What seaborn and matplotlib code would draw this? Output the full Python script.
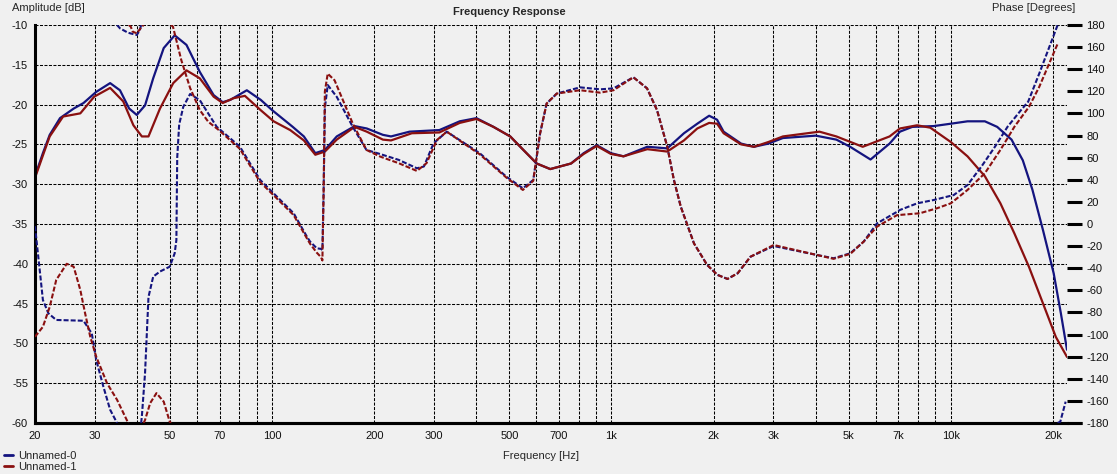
import numpy as np
import pandas as pd
import seaborn as sns
import matplotlib.pyplot as plt
from matplotlib.lines import Line2D

# amplitude [dB], solid lines
amp0_hz = [20, 21.1, 22.1, 23.7, 26.0, 27.8, 30.3, 33.3, 35.6, 37.9, 39.9, 42.2, 44.6, 47.9,
           51.6, 55.9, 61.2, 67.2, 71.5, 75.3, 84.2, 92.5, 100, 115, 124, 134, 143, 155, 175,
           190, 212, 224, 254, 311, 357, 400, 449, 503, 550, 602, 660, 760, 828, 905, 996,
           1085, 1275, 1460, 1635, 1790, 1940, 2047, 2140, 2410, 2630, 2900, 3200, 4000,
           4600, 5050, 5800, 6600, 7080, 7700, 8900, 10000, 11200, 12600, 13700, 15100,
           16300, 17400, 18700, 20100, 21100, 22000]
amp0_db = [-29.0, -26.1, -23.8, -21.7, -20.5, -19.8, -18.4, -17.3, -18.2, -20.5, -21.3, -20.1,
           -16.7, -12.9, -11.3, -12.5, -15.9, -18.8, -19.7, -19.4, -18.2, -19.4, -20.7, -22.8,
           -24.0, -26.1, -25.7, -24.0, -22.7, -23.0, -23.8, -24.0, -23.4, -23.2, -22.1, -21.7,
           -22.8, -24.0, -25.7, -27.4, -28.1, -27.4, -26.1, -25.1, -26.1, -26.5, -25.3, -25.5,
           -23.6, -22.4, -21.4, -21.9, -23.4, -24.9, -25.3, -24.9, -24.2, -23.9, -24.4, -25.3,
           -26.9, -24.9, -23.4, -22.8, -22.7, -22.4, -22.1, -22.1, -22.8, -24.4, -27.0, -30.7,
           -35.8, -41.2, -46.2, -50.8]

amp1_hz = [20, 21.3, 22.1, 24.2, 27.2, 29.9, 33.3, 36.4, 39, 41.3, 43.2, 46.7, 51.1, 55.9,
           61.2, 67.2, 71.5, 76.9, 83.1, 92.5, 101, 113, 124, 134, 143, 155, 175, 190, 212,
           224, 258, 311, 357, 400, 449, 503, 550, 602, 660, 760, 828, 905, 996, 1085, 1275,
           1460, 1635, 1790, 1940, 2047, 2140, 2410, 2630, 2900, 3200, 4100, 4600, 5500,
           6600, 7080, 7950, 8700, 10000, 11200, 12600, 14000, 15400, 17000, 18700, 20400,
           22000]
amp1_db = [-29.2, -25.9, -24.0, -21.5, -21.1, -19.0, -17.9, -19.6, -22.6, -24.0, -24.0, -20.5,
           -17.3, -15.7, -16.7, -19.0, -19.8, -19.2, -18.9, -20.7, -22.1, -23.2, -24.5, -26.3,
           -25.9, -24.4, -22.8, -23.4, -24.4, -24.5, -23.6, -23.5, -22.3, -21.8, -22.8, -24.0,
           -25.7, -27.4, -28.1, -27.4, -26.2, -25.2, -26.2, -26.5, -25.6, -25.9, -24.5, -23.0,
           -22.3, -22.4, -23.6, -25.0, -25.3, -24.7, -24.0, -23.4, -24.0, -25.3, -24.0, -23.0,
           -22.6, -22.9, -24.7, -26.5, -29.0, -32.4, -36.2, -40.4, -45.0, -49.2, -51.7]

# phase [degrees], dashed lines, wrapped to +-180 (nan = wrap break)
nan = np.nan
ph0_hz = [20, 20.2, 20.7, 21.1, 21.9, 23.1, 27.8, 29.4, 30.3, 31.8, 33.3, 34.9, nan,
          34.9, 35.6, 37.6, 39.9, 40.7, 41.1, nan,
          41.1, 41.3, 42.2, 43.2, 44.6, 46.7, 49.9, 51.6, 52.2, 52.5, 53.2, 54.7, 57.3, 61.2,
          68.6, 80.3, 92.1, 103.3, 115.7, 126.6, 129.4, 135.4, 139.3, 140.6, 141.8, 143.0,
          145.8, 155, 172.7, 189.6, 208, 236, 267, 280, 299, 327, 409, 490, 548, 588, 616,
          644, 690, 808, 926, 1014, 1160, 1273, 1362, 1460, 1527, 1600, 1750, 1913, 2052,
          2197, 2354, 2568, 3006, 4028, 4514, 5056, 5535, 6060, 6940, 7080, 7960, 8900,
          10200, 11200, 12300, 13500, 14700, 16100, 16900, 18220, 20470, 20650, nan,
          20650, 21020, 21800]
ph0_deg = [-2, -14.5, -44.6, -68.7, -80.8, -86.8, -87.5, -99, -123, -147, -168, -180, nan,
           180, 177, 173, 171, 175, 180, nan,
           -180, -174, -135, -66, -47.6, -43, -38.6, -26.5, -14.5, 60, 90, 106, 117.6, 112,
           88, 70, 40, 24.7, 9.7, -11.5, -16, -22, -22.5, -23.5, 30, 105,
           125.7, 115, 88, 67, 63.3, 58, 50.4, 52, 73, 83.5, 64, 42.8, 32.3, 39.8, 82,
           109, 118, 123.6, 121.8, 122.7, 132.7, 122.7, 103, 70, 40, 15.7, -17.5, -37, -46,
           -49.7, -44.6, -29.6, -19.9, -28, -31, -26.5, -16, 0.6, 11, 12.7, 18.7, 21.7,
           26.2, 35.3, 51.8, 70, 88, 103, 110.6, 136, 177, 180, nan,
           -180, -178.8, -160.7]

ph1_hz = [20, 21.1, 22.1, 23.1, 24.8, 26.0, 27.2, 28.1, 29.1, 30.3, 32.6, 34.9, 37.6, 37.8, nan,
          37.8, 38.3, 38.8, 39.9, 41.3, 41.8, nan,
          41.8, 42.2, 43.7, 45.6, 47.9, 49.9, 50.3, nan,
          50.3, 51.0, 54.0, 57.3, 61.2, 64.8, 69.6, 80.3, 92.1, 103.3, 115.7, 126.6, 129.4,
          135.4, 139.3, 140.6, 141.8, 143.0, 145.8, 152.7, 172.7, 189.6, 208, 236, 267, 285,
          306, 327, 409, 490, 548, 588, 616, 644, 690, 808, 926, 1014, 1160, 1273, 1362,
          1460, 1527, 1600, 1750, 1913, 2052, 2197, 2354, 2568, 3006, 4028, 4514, 5056,
          5535, 6060, 6940, 8100, 9100, 10000, 11200, 12600, 14000, 15400, 17000, 18220,
          20470, 20650]
ph1_deg = [-102, -93, -75, -50.6, -36, -38.6, -59.7, -80.8, -102, -120, -144, -159, -179.7, -180, nan,
           180, 178.5, 174, 172.5, 178.5, 180, nan,
           -180, -177.3, -162, -153, -160.7, -178.8, -180, nan,
           180, 178.5, 148, 123, 103, 92.5, 85, 68, 38, 23, 8, -13, -18,
           -26, -30, -33, 30, 120, 136, 130, 91, 67, 61, 55, 48, 55,
           76, 83.5, 63, 42, 30.8, 39, 82, 109, 118, 121, 118.8, 121, 132.7, 122.7, 103,
           70, 40, 15.7, -17.5, -37, -46, -49.7, -44.6, -29.6, -19, -28, -31.5, -27,
           -16, -2.4, 8, 9.7, 14.2, 18.7, 30.8, 45.9, 67, 88, 106, 124,
           160.4, 163]

xticks = [20, 30, 50, 70, 100, 200, 300, 500, 700, 1000, 2000, 3000, 5000, 7000, 10000, 20000]
xlabels = ['20', '30', '50', '70', '100', '200', '300', '500', '700',
           '1k', '2k', '3k', '5k', '7k', '10k', '20k']
xminor = [40, 60, 80, 90, 400, 600, 800, 900, 4000, 6000, 8000, 9000]

blue = '#14147f'
red = '#8a1010'
bg = '#f0f0f0'


def split_nan(hz, vals):
    df = pd.DataFrame({'hz': hz, 'v': vals})
    grp = df['hz'].isna().cumsum()
    out = []
    for _, g in df.groupby(grp):
        g = g.dropna()
        if len(g):
            out.append(g)
    return out


sns.set_theme(style='white', rc={'axes.facecolor': bg, 'figure.facecolor': bg})
plt.rcParams['font.family'] = ['Liberation Sans', 'DejaVu Sans']
plt.rcParams['font.size'] = 8

W, H = 1117, 474
fig = plt.figure(figsize=(W / 100, H / 100), dpi=100)
ax = fig.add_axes([35 / W, 1 - 423 / H, (1067 - 35) / W, (423 - 25) / H])
ax.set_xscale('log')

sns.lineplot(x=amp0_hz, y=amp0_db, ax=ax, color=blue, lw=1.6, estimator=None, sort=False)
sns.lineplot(x=amp1_hz, y=amp1_db, ax=ax, color=red, lw=1.6, estimator=None, sort=False)

ax.set_xlim(20, 22000)
ax.set_ylim(-60, -10)
ax.set_xticks(xticks)
ax.set_xticklabels(xlabels)
ax.set_xticks(xminor, minor=True)
ax.set_xticklabels([], minor=True)
ax.set_yticks(np.arange(-60, -9, 5))
ax.set_yticklabels([str(v) for v in range(-60, -9, 5)])
ax.tick_params(axis='x', which='major', length=0, pad=6, labelsize=8, colors='#111111')
ax.tick_params(axis='x', which='minor', length=5, width=0.8, color='black', direction='out')
ax.tick_params(axis='y', length=0, pad=5, labelsize=8, colors='#111111')
ax.grid(True, axis='x', which='both', color='black', lw=0.75, linestyle=(0, (2.9, 1.4)))
ax.grid(True, axis='y', which='major', color='black', lw=0.75, linestyle=(0, (2.9, 1.4)))
ax.set_xlabel('')
ax.set_ylabel('')
for s in ['top', 'right']:
    ax.spines[s].set_visible(False)
for s in ['left', 'bottom']:
    ax.spines[s].set_color('black')
    ax.spines[s].set_linewidth(2.2)
ax.plot([0, 1.0145], [0, 0], transform=ax.transAxes, color='black', lw=2.2,
        clip_on=False, solid_capstyle='butt')

ax2 = ax.twinx()
for seg in split_nan(ph0_hz, ph0_deg):
    sns.lineplot(x=seg['hz'].values, y=seg['v'].values, ax=ax2, color=blue, lw=1.5,
                 linestyle=(0, (2.4, 1.0)), estimator=None, sort=False)
for seg in split_nan(ph1_hz, ph1_deg):
    sns.lineplot(x=seg['hz'].values, y=seg['v'].values, ax=ax2, color=red, lw=1.5,
                 linestyle=(0, (2.4, 1.0)), estimator=None, sort=False)
ax2.set_xlim(20, 22000)
ax2.set_ylim(-180, 180)
ax2.set_yticks(np.arange(-180, 181, 20))
ax2.set_yticklabels([str(v) for v in range(-180, 181, 20)])
ax2.tick_params(axis='y', length=11, width=2.2, direction='out', pad=3, labelsize=8,
                colors='black', labelcolor='#111111')
ax2.set_ylabel('')
for s in ax2.spines.values():
    s.set_visible(False)

fig.text(12 / W, 1 - 8 / H, 'Amplitude [dB]', ha='left', va='center', fontsize=8)
fig.text(1075 / W, 1 - 8 / H, 'Phase [Degrees]', ha='right', va='center', fontsize=8)
fig.text(509 / W, 1 - 12 / H, 'Frequency Response', ha='center', va='center',
         fontsize=8, fontweight='bold')
fig.text(541 / W, 1 - 456 / H, 'Frequency [Hz]', ha='center', va='center', fontsize=8)

handles = [Line2D([], [], color=blue, lw=2), Line2D([], [], color=red, lw=2)]
fig.legend(handles, ['Unnamed-0', 'Unnamed-1'], loc='lower left',
           bbox_to_anchor=(0.0, -0.005), frameon=False, fontsize=8, handlelength=0.8,
           handletextpad=0.4, labelspacing=0.05, borderaxespad=0.2, borderpad=0.2)

fig.savefig('out.png', dpi=100, facecolor=bg)
